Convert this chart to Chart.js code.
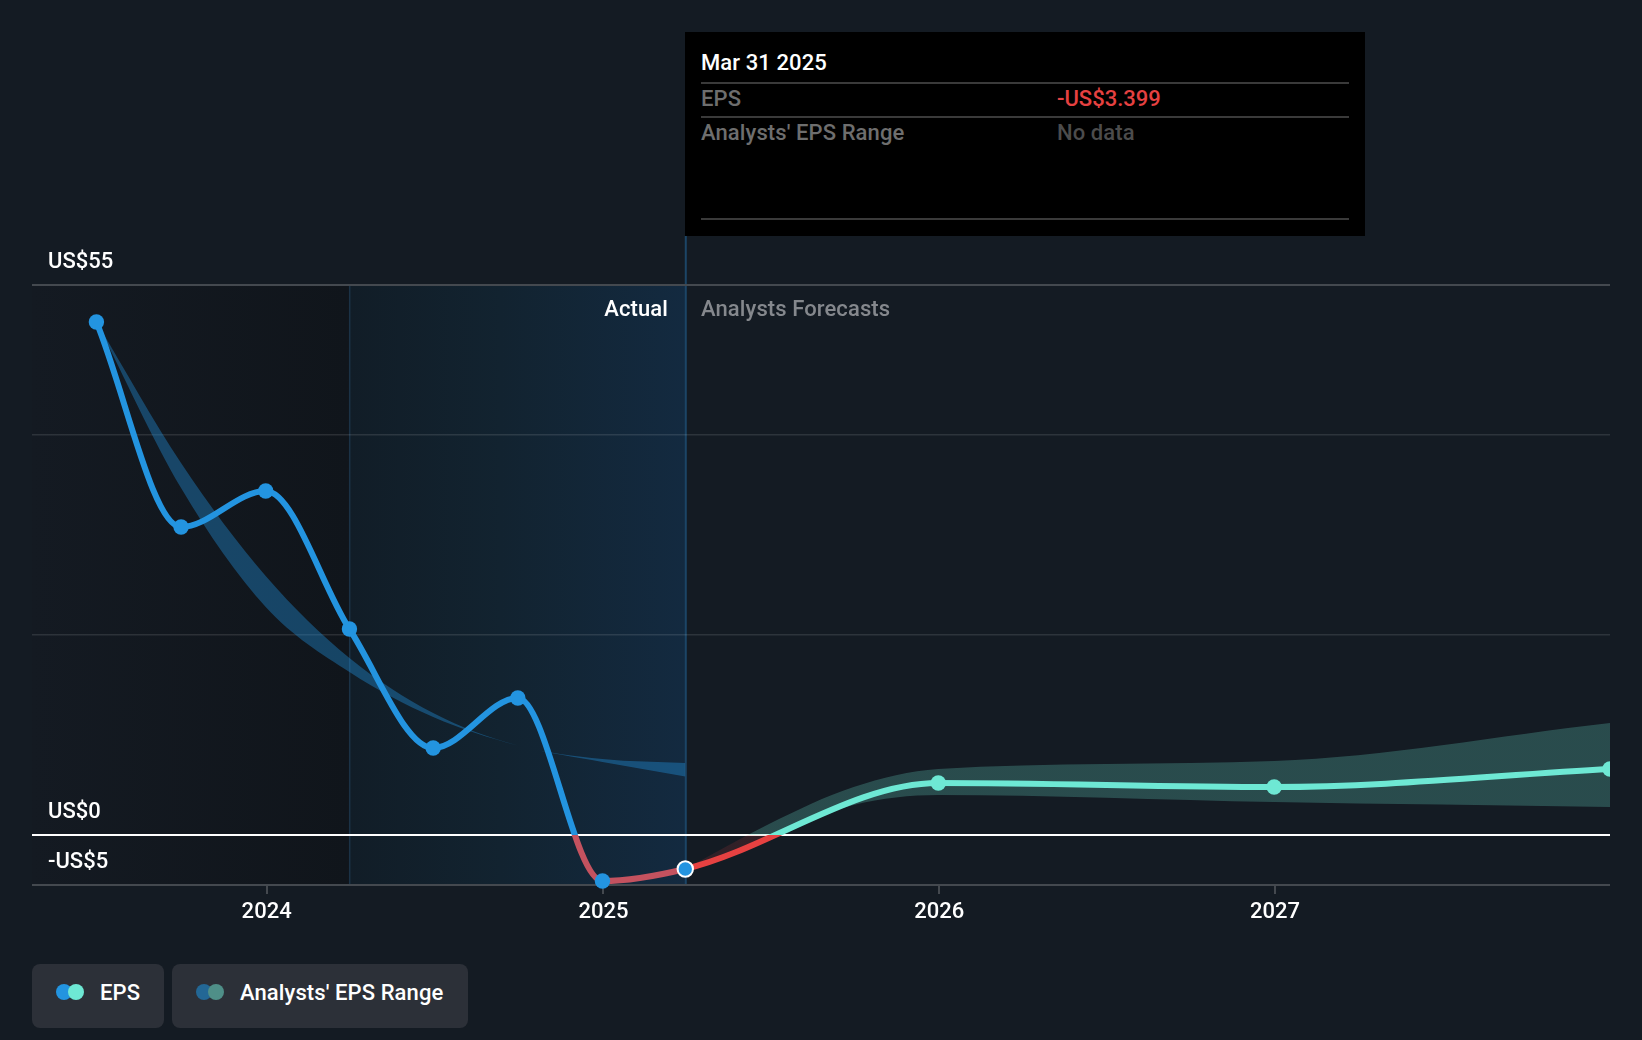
<!DOCTYPE html>
<html>
<head>
<meta charset="utf-8">
<title>EPS</title>
<script src="https://cdn.jsdelivr.net/npm/chart.js@4"></script>
<style>
    html, body { margin: 0; padding: 0; background: #141b23; }
    body { width: 1642px; height: 1040px; position: relative; overflow: hidden; font-family: Roboto, sans-serif; font-size: 22px; font-weight: 500; color: #fff; }
    canvas { position: absolute; left: 0; top: 0; }
    .txt { position: absolute; white-space: nowrap; line-height: 26px; letter-spacing: 0.1px; }
    #panel { position: absolute; left: 685px; top: 32px; width: 680px; height: 204px; background: #000; }
    .rule { position: absolute; left: 16px; width: 648px; height: 2px; background: #3a3a3a; }
    .chip { position: absolute; top: 964px; height: 64px; background: #2c3038; border-radius: 8px; }
    .dot { position: absolute; top: 20px; width: 16px; height: 16px; border-radius: 50%; }
</style>
</head>
<body>
<canvas id="epsChart" width="1642" height="1040"></canvas>

<div class="txt" style="right:974px;top:296px">Actual</div>
<div class="txt" style="left:701px;top:296px;color:#85888d">Analysts Forecasts</div>

<div id="panel">
    <div class="txt" style="left:16px;top:18px">Mar 31 2025</div>
    <div class="rule" style="top:50px"></div>
    <div class="txt" style="left:16px;top:54px;color:#6e6e6e">EPS</div>
    <div class="txt" style="left:372px;top:54px;color:#e64141;letter-spacing:0">-US$3.399</div>
    <div class="rule" style="top:84px"></div>
    <div class="txt" style="left:16px;top:88px;color:#6e6e6e">Analysts' EPS Range</div>
    <div class="txt" style="left:372px;top:88px;color:#4c4c4c">No data</div>
    <div class="rule" style="top:186px"></div>
</div>

<div class="chip" style="left:32px;width:132px">
    <div class="dot" style="left:24px;background:#2394e0"></div>
    <div class="dot" style="left:36px;background:#6ee8d4"></div>
    <div class="txt" style="left:68px;top:16px">EPS</div>
</div>
<div class="chip" style="left:172px;width:296px">
    <div class="dot" style="left:24px;background:#236795"></div>
    <div class="dot" style="left:36px;background:#4f8f88"></div>
    <div class="txt" style="left:68px;top:16px">Analysts' EPS Range</div>
</div>

<script>
// Data
const epsDates = ['2023-06-30', '2023-09-30', '2023-12-31', '2024-03-31', '2024-06-30', '2024-09-30', '2024-12-31', '2025-03-31', '2025-12-31', '2026-12-31', '2027-12-31'];
const epsValues = [51.3, 30.8, 34.4, 20.6, 8.7, 13.7, -4.6, -3.399, 5.2, 4.8, 6.6];

const pastRangeDates = ['2023-06-30', '2023-09-30', '2023-12-31', '2024-03-31', '2024-06-30', '2024-09-30', '2024-12-31', '2025-03-31'];
const pastRangeHigh = [51.3, 37.2, 25.9, 17.7, 12.2, 8.95, 7.6, 7.2];
const pastRangeLow = [51.3, 34.7, 22.8, 16.3, 11.8, 8.95, 7.3, 5.85];

const forecastRangeDates = ['2025-03-31', '2025-06-30', '2025-09-30', '2025-12-31', '2026-12-31', '2027-12-31'];
const forecastRangeHigh = [-3.399, 1.1, 4.8, 6.6, 7.4, 11.2];
const forecastRangeLow = [-3.399, -0.1, 3.0, 4.0, 3.3, 2.8];

const yearTicks = [2024, 2025, 2026, 2027];
const valueTicks = [-5, 0, 20, 40, 55];
const labelledValues = [-5, 0, 55];

const xStart = '2023-04-21';
const xEnd = '2027-12-31';
const historyStart = '2024-03-31';
const todayDate = '2025-03-31';

const colors = {
    blue: '#2394e0',
    teal: '#6ee8d4',
    red: '#e64141',
    redMuted: '#c4525f',
    blueBand: 'rgba(35, 148, 224, 0.38)',
    tealBand: 'rgba(110, 232, 212, 0.24)',
    redBand: 'rgba(230, 65, 65, 0.14)',
    axis: '#44494f',
    grid: 'rgba(255, 255, 255, 0.11)'
};

const toMs = d => Date.parse(d + 'T00:00:00Z');
const toPoints = (dates, values) => dates.map((d, i) => ({ x: toMs(d), y: values[i] }));

// Hard colour change where a line or band crosses zero
function zeroSplit(chart, above, below) {
    const y = chart.scales.y;
    if (!chart.chartArea || !y) return above;
    const top = chart.chartArea.top;
    const bottom = chart.chartArea.bottom;
    const stop = (y.getPixelForValue(0) - top) / (bottom - top);
    const g = chart.ctx.createLinearGradient(0, top, 0, bottom);
    g.addColorStop(0, above);
    g.addColorStop(stop, above);
    g.addColorStop(stop, below);
    g.addColorStop(1, below);
    return g;
}

// Shaded history zones and vertical markers, painted under the grid
const backdrop = {
    id: 'backdrop',
    beforeDraw(chart) {
        const { ctx, chartArea: area, scales: { x } } = chart;
        const split = x.getPixelForValue(toMs(historyStart));
        const today = x.getPixelForValue(toMs(todayDate));

        let g = ctx.createLinearGradient(area.left, 0, split, 0);
        g.addColorStop(0, '#141a22');
        g.addColorStop(1, '#10151b');
        ctx.fillStyle = g;
        ctx.fillRect(area.left, area.top, split - area.left, area.height);

        g = ctx.createLinearGradient(split, 0, today, 0);
        g.addColorStop(0, '#111d27');
        g.addColorStop(0.45, '#122330');
        g.addColorStop(1, '#132a40');
        ctx.fillStyle = g;
        ctx.fillRect(split, area.top, today - split, area.height);

        ctx.fillStyle = '#1b3246';
        ctx.fillRect(split - 0.5, area.top, 1.5, area.height);
        ctx.fillStyle = '#1c4566';
        ctx.fillRect(today - 0.5, 236, 2, area.bottom - 236);
    }
};

const lastActual = epsDates.indexOf(todayDate);

new Chart(document.getElementById('epsChart'), {
    type: 'line',
    plugins: [backdrop],
    data: {
        datasets: [
            {
                data: toPoints(epsDates, epsValues),
                order: 1,
                borderWidth: 6,
                borderColor: colors.blue,
                segment: {
                    borderColor: c => (c.p0DataIndex < lastActual
                        ? zeroSplit(c.chart, colors.blue, colors.redMuted)
                        : zeroSplit(c.chart, colors.teal, colors.red))
                },
                cubicInterpolationMode: 'monotone',
                pointRadius: 7.7,
                pointBackgroundColor: epsDates.map((d, i) => (i <= lastActual ? colors.blue : colors.teal)),
                pointBorderColor: epsDates.map((d, i) => (i === lastActual ? '#fff' : 'transparent')),
                pointBorderWidth: epsDates.map((d, i) => (i === lastActual ? 2 : 0)),
                clip: { left: 0, top: 0, right: 0, bottom: 10 }
            },
            {
                data: toPoints(pastRangeDates, pastRangeHigh),
                order: 3,
                fill: '+1',
                backgroundColor: colors.blueBand,
                borderWidth: 0,
                cubicInterpolationMode: 'monotone',
                pointRadius: 0
            },
            {
                data: toPoints(pastRangeDates, pastRangeLow),
                order: 3,
                borderWidth: 0,
                cubicInterpolationMode: 'monotone',
                pointRadius: 0
            },
            {
                data: toPoints(forecastRangeDates, forecastRangeHigh),
                order: 3,
                fill: '+1',
                backgroundColor: c => zeroSplit(c.chart, colors.tealBand, colors.redBand),
                borderWidth: 0,
                cubicInterpolationMode: 'monotone',
                pointRadius: 0
            },
            {
                data: toPoints(forecastRangeDates, forecastRangeLow),
                order: 3,
                borderWidth: 0,
                cubicInterpolationMode: 'monotone',
                pointRadius: 0
            }
        ]
    },
    options: {
        responsive: false,
        animation: false,
        layout: { padding: { left: 32, right: 32, top: 285, bottom: 0 } },
        plugins: { legend: { display: false }, tooltip: { enabled: false } },
        scales: {
            x: {
                type: 'linear',
                min: toMs(xStart),
                max: toMs(xEnd),
                afterBuildTicks: axis => {
                    axis.ticks = yearTicks.map(y => ({ value: Date.UTC(y, 0, 1) }));
                },
                afterFit: axis => { axis.height = 155; },
                border: { display: false },
                grid: { drawOnChartArea: false, drawTicks: true, tickLength: 9, color: colors.axis, lineWidth: 2 },
                ticks: {
                    autoSkip: false,
                    maxRotation: 0,
                    padding: 5,
                    color: '#fff',
                    font: { family: 'Roboto', size: 22, weight: '500' },
                    callback: v => new Date(v).getUTCFullYear()
                }
            },
            y: {
                min: -5,
                max: 55,
                afterBuildTicks: axis => {
                    axis.ticks = valueTicks.map(v => ({ value: v }));
                },
                afterFit: axis => { axis.width = 0; },
                border: { display: false },
                grid: {
                    drawTicks: false,
                    color: c => {
                        if (c.tick.value === 0) return '#fff';
                        if (c.tick.value === 20 || c.tick.value === 40) return colors.grid;
                        return colors.axis;
                    },
                    lineWidth: c => (c.tick.value === 20 || c.tick.value === 40 ? 1.5 : 2)
                },
                ticks: {
                    mirror: true,
                    padding: 16,
                    labelOffset: -23,
                    color: '#fff',
                    font: { family: 'Roboto', size: 22, weight: '500' },
                    callback: v => {
                        if (!labelledValues.includes(v)) return '';
                        return v < 0 ? '-US$' + (-v) : 'US$' + v;
                    }
                }
            }
        }
    }
});
</script>
</body>
</html>
